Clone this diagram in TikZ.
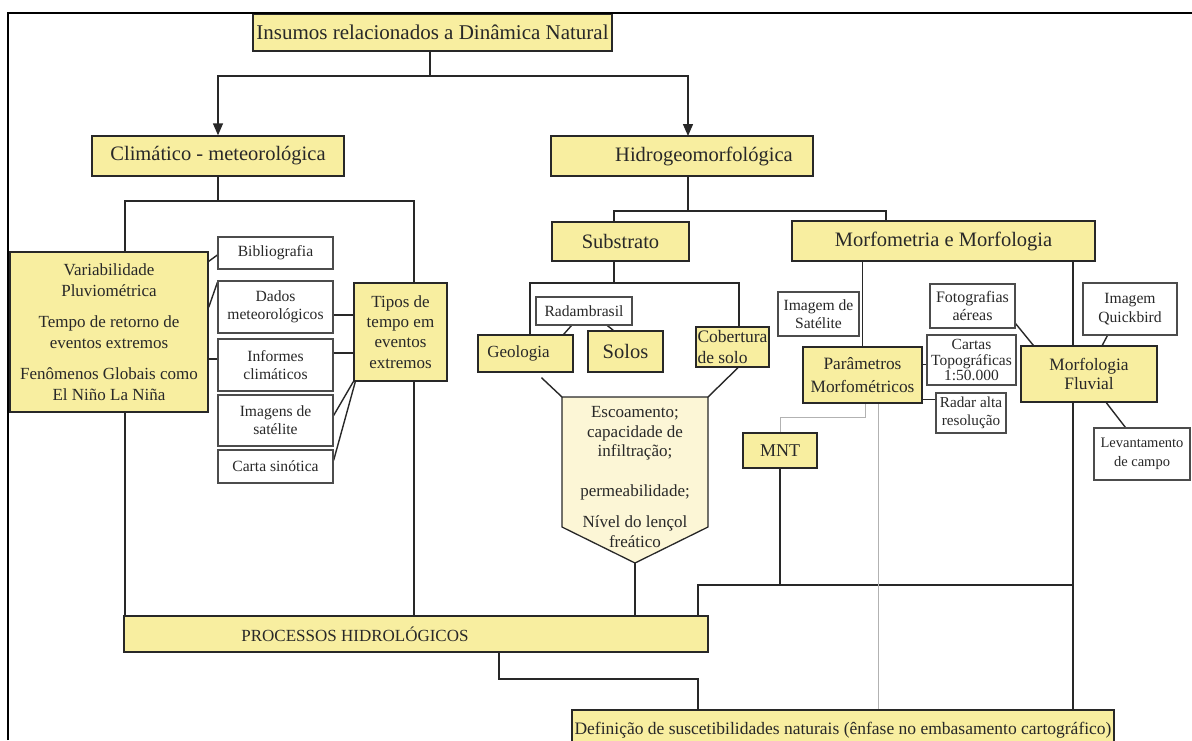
\documentclass[tikz,border=0pt]{standalone}
\usepackage{fontspec}
\setmainfont{Liberation Serif}
\usetikzlibrary{arrows.meta,calc}
\pgfdeclarelayer{bg}
\pgfsetlayers{bg,main}
\definecolor{boxyellow}{RGB}{248,238,160}
\definecolor{pentyellow}{RGB}{252,246,214}
\definecolor{inkc}{RGB}{40,40,40}
\begin{document}
\begin{tikzpicture}[x=1pt,y=-1pt,
  fsz/.style 2 args={font=\fontsize{#1}{#2}\selectfont},
  sz/.style 2 args={minimum width=#1pt, minimum height=#2pt},
  ybox/.style={draw=inkc, fill=boxyellow, line width=1.4pt, inner sep=0pt, align=center, text=inkc},
  wbox/.style={draw=black!70, fill=white, line width=1.2pt, inner sep=0pt, align=center, text=inkc},
  conn/.style={draw=inkc, line width=1.4pt},
  thinconn/.style={draw=black!30, line width=0.7pt},
  arr/.style={-{Triangle[width=10pt,length=12pt]}}
]
\useasboundingbox (0,0) rectangle (1192,740);

% nodes
\node[ybox,fsz={21}{25},sz={359}{37}] (title) at (432.5,32.5) {Insumos relacionados a Dinâmica Natural};
\node[ybox,fsz={20.5}{24},sz={252}{40}] (clim) at (218,156) {Climático - meteorológica};
\node[ybox,fsz={20.5}{24},sz={262}{40}] (hidro) at (682,156) {\hspace*{44pt}Hidrogeomorfológica};
\node[ybox,fsz={20.5}{24},sz={137}{39}] (subs) at (620.5,241.5) {Substrato};
\node[ybox,fsz={20.5}{24},sz={303}{40}] (morf) at (943.5,241) {Morfometria e Morfologia};

\node[ybox,fsz={17}{21},sz={198}{160}] (varia) at (109,332) {Variabilidade\\Pluviométrica\\[10pt]Tempo de retorno de\\eventos extremos\\[10pt]Fenômenos Globais como\\El Niño La Niña};
\node[wbox,fsz={15.6}{18},sz={115}{32}] (biblio) at (275.5,253) {Bibliografia};
\node[wbox,fsz={15.6}{18.5},sz={115}{52}] (dados) at (275.5,307) {Dados\\meteorológicos};
\node[wbox,fsz={15.6}{18},sz={115}{52}] (informes) at (275.5,365) {Informes\\climáticos};
\node[wbox,fsz={15.6}{18},sz={115}{51}] (imagens) at (275.5,420.5) {Imagens de\\satélite};
\node[wbox,fsz={15.6}{18},sz={115}{33}] (carta) at (275.5,466.5) {Carta sinótica};
\node[ybox,fsz={17}{20.3},sz={93}{98}] (tipos) at (400.5,332) {Tipos de\\tempo em\\eventos\\extremos};

\node[wbox,fsz={15.6}{18},sz={96}{28}] (radam) at (584,311) {Radambrasil};
\node[ybox,fsz={17}{20},sz={95}{37}] (geol) at (525.5,353.5) {Geologia\hspace*{14pt}};
\node[ybox,fsz={20.5}{24},sz={75}{41}] (solos) at (625.5,351.5) {Solos};
\node[ybox,fsz={17.5}{21},sz={73}{40},align=left] (cobert) at (732.5,347) {Cobertura\\de solo};

\coordinate (pTL) at (562,397);
\coordinate (pTR) at (708,397);
\coordinate (pRB) at (708,527);
\coordinate (pB) at (635,563);
\coordinate (pLB) at (562,527);
\draw[draw=inkc, fill=pentyellow, line width=1.3pt] (pTL) -- (pTR) -- (pRB) -- (pB) -- (pLB) -- cycle;
\node[fsz={17}{19.5},align=center,text=inkc,inner sep=0pt] (esc) at (635,477) {Escoamento;\\capacidade de\\infiltração;\\[20.5pt]permeabilidade;\\[11.5pt]Nível do lençol\\freático};

\node[ybox,fsz={18}{21},sz={74}{35}] (mnt) at (780,450.5) {MNT};
\node[ybox,fsz={17.3}{23},sz={119}{56}] (param) at (862.5,375) {Parâmetros\\Morfométricos};
\node[wbox,fsz={15.5}{15.5},sz={89}{50}] (cartas) at (971.5,360) {Cartas\\Topográficas\\1:50.000};
\node[wbox,fsz={15.2}{18},sz={70}{40}] (radar) at (971,413) {Radar alta\\resolução};
\node[wbox,fsz={15.6}{18},sz={81}{44}] (imgsat) at (818.5,314) {Imagem de\\Satélite};
\node[wbox,fsz={16}{18},sz={85}{44}] (foto) at (972.5,306) {Fotografias\\aéreas};
\node[wbox,fsz={15.6}{19},sz={94}{52}] (quick) at (1130,309) {Imagem\\Quickbird};
\node[ybox,fsz={17.4}{18.5},sz={136}{56}] (fluv) at (1089,374) {Morfologia\\Fluvial};
\node[wbox,fsz={14.5}{19},sz={96}{52}] (levant) at (1142,454) {Levantamento\\de campo};

\node[ybox,fsz={17}{20},sz={584}{36}] (proc) at (416,634) {PROCESSOS HIDROLÓGICOS\hspace*{122pt}};
\node[ybox,fsz={17.5}{20},sz={542}{40}] (defn) at (843,730) {Definição de suscetibilidades naturais (ênfase no embasamento cartográfico)};

% frame
\draw[line width=2pt, black] (8,740) -- (8,12.7) -- (1192,12.7);

\begin{pgfonlayer}{bg}
\fill[white] (0,0) rectangle (1192,740);
% top
\coordinate (tj) at (430,76);
\draw[conn] (title.south -| tj) -- (tj);
\draw[conn,arr] (tj) -| (clim.north);
\coordinate (hidroA) at (688,136);
\draw[conn,arr] (tj) -| (hidroA);
% climatic branch
\coordinate (cj) at (218,201);
\draw[conn] (clim.south) -- (cj);
\coordinate (cjl) at (125,201);
\coordinate (cjr) at (414,201);
\draw[conn] (proc.north -| cjl) -- (cjl) -- (cjr) -- (proc.north -| cjr);
% hidro branch
\coordinate (hj) at (688,211);
\draw[conn] (hidroA |- hidro.south) -- (hj);
\coordinate (hjl) at (614,211);
\coordinate (hjr) at (886,211);
\draw[conn] (subs.north -| hjl) -- (hjl) -- (hjr) -- (morf.north -| hjr);
% substrato
\coordinate (sj) at (614,283);
\coordinate (sjl) at (530,283);
\coordinate (sjr) at (739,283);
\draw[conn] (subs.south -| sj) -- (sj);
\draw[conn] (geol.north -| sjl) -- (sjl) -- (sjr) -- (cobert.north -| sjr);
\draw[conn] ($(radam.south west)+(36,0)$) -- ($(geol.north east)+(-10,0)$);
\draw[conn] ($(radam.south west)+(72,0)$) -- ($(solos.north west)+(26,0)$);
\draw[conn] ($(geol.south)+(16,5)$) -- (pTL);
\draw[conn] ($(cobert.south)+(5.5,0)$) -- (pTR);
\draw[conn] (pB) -- (pB |- proc.north);
% processos -> definicao
\coordinate (pj1) at (499,679);
\coordinate (pj2) at (698,679);
\draw[conn] (proc.south -| pj1) -- (pj1) -- (pj2) -- (defn.north -| pj2);
% MNT and right verticals
\coordinate (mj) at (780,585);
\coordinate (mjl) at (698,585);
\coordinate (mjr) at (1073,585);
\draw[conn] (mnt.south) -- (mj);
\draw[conn] (proc.north -| mjl) -- (mjl) -- (mjr);
\draw[conn] (morf.south -| mjr) -- (defn.north -| mjr);
% morfometria
\draw[conn] (morf.south -| param.north) -- (param.north);
\coordinate (pc) at ($(param.north east)+(0,18)$);
\draw[conn] (pc) -- (pc -| cartas.west);
\coordinate (pr) at ($(param.north east)+(0,53)$);
\draw[conn] (pr) -- (pr -| radar.west);
\coordinate (g0) at ($(param.south)+(2.5,0)$);
\coordinate (g1) at (780,417);
\draw[thinconn] (g0) |- (g1) -- (mnt.north);
\coordinate (g2) at ($(param.south)+(15.5,0)$);
\draw[thinconn] (g2) -- (g2 |- defn.north);
\draw[conn] ($(foto.south east)+(0,-5)$) -- ($(fluv.north west)+(13,0)$);
\draw[conn] ($(quick.south west)+(25,0)$) -- ($(fluv.north west)+(82,0)$);
\draw[conn] ($(fluv.south west)+(86,0)$) -- ($(levant.north west)+(32,0)$);
% climatic inputs
\draw[conn] ($(varia.north east)+(0,10)$) -- ($(biblio.west)+(0,2)$);
\draw[conn] ($(varia.north east)+(0,56)$) -- ($(dados.north west)+(0,2)$);
\coordinate (vi) at ($(varia.east)+(0,27)$);
\draw[conn] (vi) -- (vi -| informes.west);
\coordinate (dt) at ($(dados.east)+(0,8)$);
\draw[conn] (dt) -- (dt -| tipos.west);
\coordinate (it) at ($(informes.east)+(0,-12)$);
\draw[conn] (it) -- (it -| tipos.west);
\draw[conn] ($(imagens.east)+(0,-5)$) -- (tipos.south west);
\draw[conn] ($(carta.east)+(0,-6)$) -- ($(tipos.south west)+(2,0)$);
\end{pgfonlayer}
\end{tikzpicture}
\end{document}
